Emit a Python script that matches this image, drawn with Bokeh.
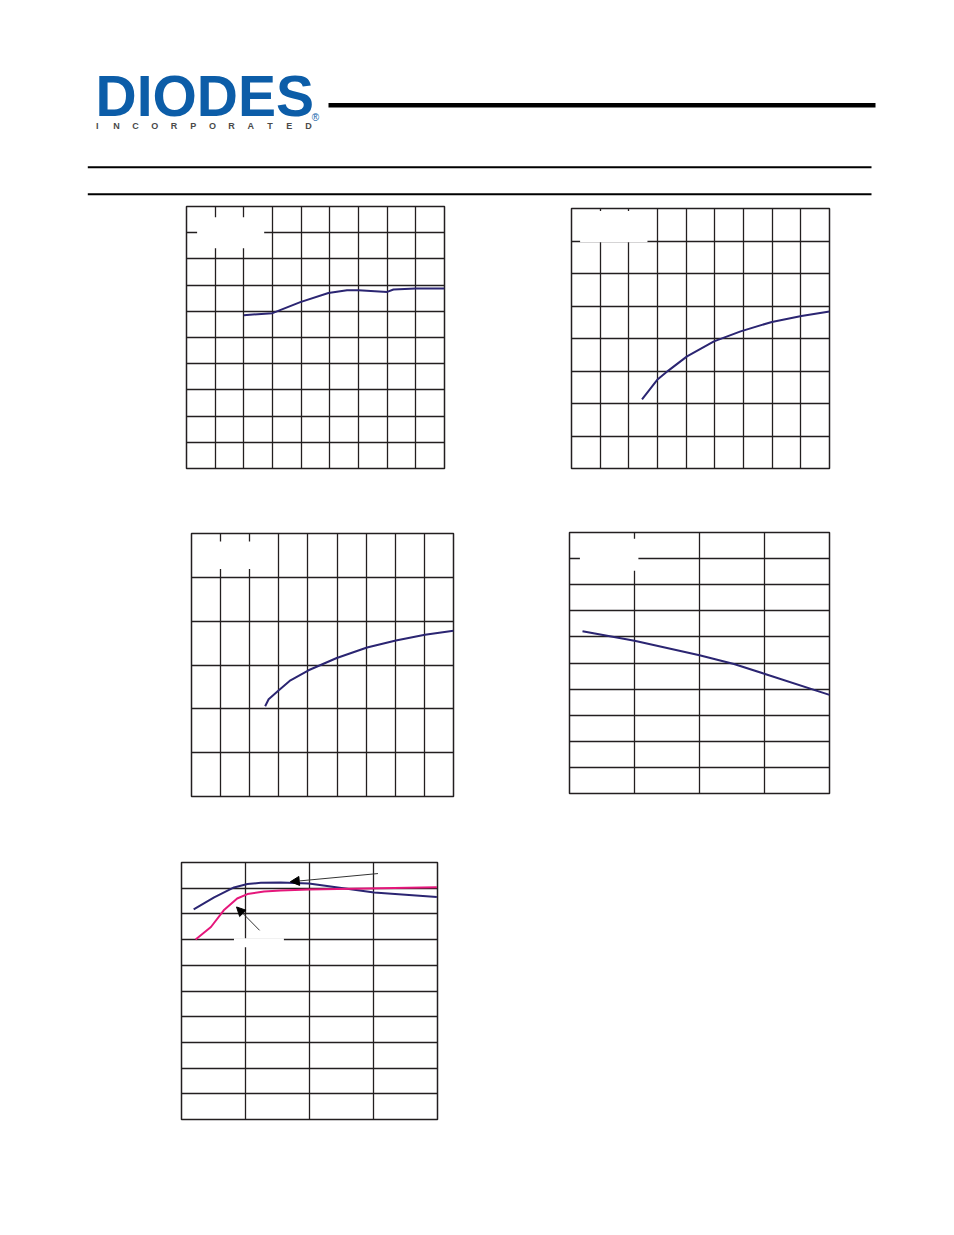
from bokeh.plotting import figure
from bokeh.layouts import column, row
from bokeh.models import Spacer, FixedTicker, BoxAnnotation, Arrow, NormalHead, Range1d
from bokeh.core.properties import value
from bokeh.embed import file_html
from bokeh.resources import INLINE

# ---------------- data (grid units) ----------------
c1_x = [2.0, 3.0, 3.97, 4.95, 5.6, 6.0, 7.0, 7.22, 8.0, 9.0]
c1_y = [5.85, 5.93, 6.35, 6.70, 6.80, 6.80, 6.74, 6.83, 6.87, 6.87]

c2_x = [2.46, 2.99, 3.39, 4.03, 4.97, 5.90, 6.99, 8.02, 9.0]
c2_y = [2.13, 2.73, 3.02, 3.45, 3.91, 4.22, 4.51, 4.69, 4.83]

c3_x = [2.53, 2.65, 2.99, 3.4, 4.02, 4.99, 6.03, 7.02, 8.02, 9.0]
c3_y = [2.06, 2.22, 2.42, 2.65, 2.88, 3.16, 3.40, 3.56, 3.69, 3.78]

c4_x = [0.2, 1.0, 2.0, 2.53, 3.02, 4.0]
c4_y = [6.22, 5.85, 5.30, 4.96, 4.57, 3.78]

c5_x_blue = [0.19, 0.51, 0.82, 1.03, 1.24, 1.55, 1.99, 3.01, 3.99]
c5_y_blue = [8.18, 8.64, 9.03, 9.16, 9.21, 9.22, 9.18, 8.83, 8.66]
c5_x_pink = [0.22, 0.46, 0.66, 0.87, 1.03, 1.29, 1.55, 1.99, 3.99]
c5_y_pink = [7.00, 7.49, 8.14, 8.60, 8.77, 8.87, 8.91, 8.95, 9.04]

logo_word = "DIODES"
logo_sub = list("INCORPORATED")

NAVY = "#2b2572"
PINK = "#e5177b"
INK = "#231f20"
BLUE = "#0c5da8"
B = 3


def chart(fw, fh, nx, ny):
    p = figure(width=fw + 2 * B, height=fh + 2 * B,
               x_range=Range1d(0, nx), y_range=Range1d(0, ny),
               x_axis_location=None, y_axis_location=None,
               output_backend="svg", toolbar_location=None, min_border=B,
               background_fill_color="white", border_fill_color="white")
    p.xgrid.ticker = FixedTicker(ticks=list(range(1, nx)))
    p.ygrid.ticker = FixedTicker(ticks=list(range(1, ny)))
    for g in (p.xgrid, p.ygrid):
        g.grid_line_color = INK
        g.grid_line_width = 1.3
        g.grid_line_alpha = 1.0
    p.outline_line_color = INK
    p.outline_line_width = 1.5
    p.outline_line_alpha = 1.0
    return p


def blank(p, l, r, b, t):
    p.add_layout(BoxAnnotation(left=l, right=r, bottom=b, top=t,
                               fill_color="white", fill_alpha=1.0,
                               line_color=None))


# ---------------- header ----------------
hdr = figure(width=946, height=203, x_range=Range1d(0, 946), y_range=Range1d(203, 0),
             x_axis_location=None, y_axis_location=None, output_backend="svg",
             toolbar_location=None, min_border=0, outline_line_color=None)
hdr.xgrid.visible = False
hdr.ygrid.visible = False
hdr.text(x=[95], y=[95], text=[logo_word], text_font=value("Liberation Sans"),
         text_font_style="bold", text_font_size="57px", text_color=BLUE,
         text_baseline="middle", text_align="left")
hdr.text(x=[96.7 + 19.2 * i for i in range(len(logo_sub))], y=[125] * len(logo_sub),
         text=logo_sub, text_font=value("Liberation Sans"), text_font_style="bold",
         text_font_size="9px", text_color="#4a4a4a", text_baseline="middle",
         text_align="center")
hdr.text(x=[315], y=[117], text=["®"], text_font=value("Liberation Sans"),
         text_font_size="10px", text_color=BLUE, text_baseline="middle",
         text_align="center")
hdr.segment(x0=[328], x1=[875], y0=[104.7], y1=[104.7], line_color="black", line_width=4.5)
hdr.segment(x0=[87.3, 87.3], x1=[871, 871], y0=[166.7, 193.7], y1=[166.7, 193.7],
            line_color="black", line_width=2)

# ---------------- chart 1 ----------------
p1 = chart(258, 262, 9, 10)
blank(p1, 0.37, 2.71, 8.41, 9.59)
p1.line(c1_x, c1_y, line_color=NAVY, line_width=2)

# ---------------- chart 2 ----------------
p2 = chart(258, 260, 9, 8)
blank(p2, 0.30, 2.65, 6.96, 7.92)
p2.line(c2_x, c2_y, line_color=NAVY, line_width=2)

# ---------------- chart 3 ----------------
p3 = chart(262, 263, 9, 6)
blank(p3, 0.30, 2.70, 5.19, 5.82)
p3.line(c3_x, c3_y, line_color=NAVY, line_width=2)

# ---------------- chart 4 ----------------
p4 = chart(260, 261, 4, 10)
blank(p4, 0.16, 1.06, 8.53, 9.76)
p4.line(c4_x, c4_y, line_color=NAVY, line_width=2)

# ---------------- chart 5 ----------------
p5 = chart(256, 257, 4, 10)
blank(p5, 0.82, 1.60, 6.70, 7.05)
p5.line(c5_x_blue, c5_y_blue, line_color=NAVY, line_width=2)
p5.line(c5_x_pink, c5_y_pink, line_color=PINK, line_width=2)
p5.add_layout(Arrow(end=NormalHead(size=9, fill_color="black", line_color="black"),
                    x_start=3.07, y_start=9.57, x_end=1.70, y_end=9.25,
                    line_color="#333333", line_width=1))
p5.add_layout(Arrow(end=NormalHead(size=9, fill_color="black", line_color="black"),
                    x_start=1.22, y_start=7.36, x_end=0.86, y_end=8.27,
                    line_color="#333333", line_width=1))

# ---------------- layout ----------------
row1 = row(Spacer(width=183, height=10), p1, Spacer(width=121, height=10),
           column(Spacer(width=10, height=2), p2))
row2 = row(Spacer(width=188, height=10), column(Spacer(width=10, height=1), p3),
           Spacer(width=110, height=10), p4)
row3 = row(Spacer(width=178, height=10), p5)
page = column(hdr, row1, Spacer(width=10, height=58), row2,
              Spacer(width=10, height=60), row3)

open("out.html", "w").write(file_html(page, INLINE))
